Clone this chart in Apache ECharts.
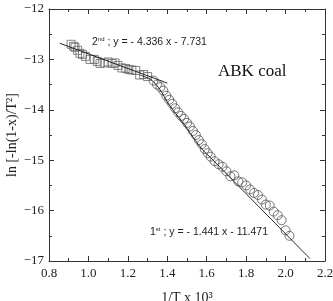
<!DOCTYPE html>
<html>
<head>
<meta charset="utf-8">
<script src="https://cdn.jsdelivr.net/npm/echarts@6/dist/echarts.min.js"></script>
<style>
  html, body { margin: 0; padding: 0; background: #fff; }
  #chartmain { width: 333px; height: 301px; }
</style>
</head>
<body>
<div id="chartmain"></div>
<script>
// 2nd stage data (squares)
var squareX = [0.912, 0.925, 0.932, 0.945, 0.957, 0.97, 0.985, 1.008, 1.03, 1.045, 1.059, 1.08, 1.1, 1.12, 1.135, 1.15, 1.17, 1.19, 1.205, 1.22, 1.24, 1.26, 1.28, 1.3];
var squareY = [-12.70, -12.74, -12.76, -12.82, -12.88, -12.9, -12.94, -13.0, -13.0, -13.04, -13.08, -13.07, -13.05, -13.08, -13.07, -13.12, -13.17, -13.18, -13.2, -13.21, -13.22, -13.31, -13.3, -13.34];
// 1st stage data (circles)
var circleX = [1.33, 1.348, 1.365, 1.38, 1.395, 1.41, 1.425, 1.44, 1.455, 1.47, 1.485, 1.5, 1.515, 1.53, 1.545, 1.56, 1.575, 1.59, 1.605, 1.62, 1.64, 1.66, 1.68, 1.7, 1.72, 1.74, 1.76, 1.78, 1.8, 1.82, 1.84, 1.86, 1.88, 1.9, 1.92, 1.94, 1.96, 1.98, 2.0, 2.02];
var circleY = [-13.42, -13.5, -13.55, -13.62, -13.72, -13.8, -13.88, -13.97, -14.05, -14.12, -14.18, -14.26, -14.33, -14.42, -14.5, -14.6, -14.68, -14.78, -14.86, -14.93, -15.02, -15.08, -15.13, -15.22, -15.32, -15.3, -15.42, -15.44, -15.5, -15.58, -15.65, -15.69, -15.78, -15.88, -15.9, -16.02, -16.09, -16.19, -16.39, -16.5];
// fitted lines
var fit2X = [0.855, 1.40];
var fit2Y = [-12.68, -13.47];
var fit1X = [1.262, 1.32, 1.363, 1.404, 1.44, 1.48, 1.53, 1.58, 1.617, 2.123];
var fit1Y = [-13.31, -13.41, -13.6, -13.87, -14.06, -14.26, -14.54, -14.8, -14.94, -16.95];
var xTicks = [0.8, 1.0, 1.2, 1.4, 1.6, 1.8, 2.0, 2.2];
var yTicks = [-12, -13, -14, -15, -16, -17];

function zip(a, b) {
    var out = [];
    for (var i = 0; i < a.length; i++) out.push([a[i], b[i]]);
    return out;
}

var serif = '"Liberation Serif", "DejaVu Serif", serif';
var sans = '"Liberation Sans", Arial, sans-serif';

var axisCommon = {
    axisLine: { lineStyle: { color: '#333', width: 1 } },
    axisTick: { inside: true, length: 5, lineStyle: { color: '#333' } },
    minorTick: { show: true, splitNumber: 2, length: 3, lineStyle: { color: '#333' } },
    splitLine: { show: false }
};

var chart = echarts.init(document.getElementById('chartmain'));
chart.setOption({
    animation: false,
    backgroundColor: '#fff',
    grid: { left: 49, right: 8, top: 9, bottom: 40, containLabel: false, outerBoundsMode: 'none' },
    xAxis: [
        Object.assign({
            type: 'value', min: xTicks[0], max: xTicks[xTicks.length - 1], interval: 0.2,
            position: 'bottom',
            axisLabel: { fontFamily: serif, fontSize: 13, color: '#222', margin: 6,
                formatter: function (v) { return v.toFixed(1); } },
            name: '1/T x 10³', nameLocation: 'middle', nameGap: 30, nameMoveOverlap: false,
            nameTextStyle: { fontFamily: serif, fontSize: 14, color: '#222' }
        }, axisCommon),
        Object.assign({
            type: 'value', min: 0.8, max: 2.2, interval: 0.2, position: 'top',
            axisLabel: { show: false }
        }, axisCommon)
    ],
    yAxis: [
        Object.assign({
            type: 'value', min: yTicks[yTicks.length - 1], max: yTicks[0], interval: 1,
            position: 'left',
            axisLabel: { fontFamily: serif, fontSize: 13, color: '#222', margin: 5,
                formatter: function (v) { return String(v).replace('-', '\u2212'); } },
            name: 'ln [-ln(1-x)/T²]', nameLocation: 'middle', nameGap: 30, nameMoveOverlap: false,
            nameTextStyle: { fontFamily: serif, fontSize: 14, color: '#222' }
        }, axisCommon),
        Object.assign({
            type: 'value', min: -17, max: -12, interval: 1, position: 'right',
            axisLabel: { show: false }
        }, axisCommon)
    ],
    graphic: [
        { type: 'text', left: 92, top: 36, style: {
            text: '2{s|nd} ; y = - 4.336 x - 7.731', fill: '#222',
            font: '10.5px ' + sans,
            rich: { s: { fontSize: 6, verticalAlign: 'top', padding: [0, 0, 6, 0], fontFamily: sans } } } },
        { type: 'text', left: 150, top: 226, style: {
            text: '1{s|st} ; y = - 1.441 x - 11.471', fill: '#222',
            font: '10.5px ' + sans,
            rich: { s: { fontSize: 6, verticalAlign: 'top', padding: [0, 0, 6, 0], fontFamily: sans } } } },
        { type: 'text', left: 218, top: 63, style: {
            text: 'ABK coal', fill: '#111', font: '17px ' + serif } }
    ],
    series: [
        {
            type: 'scatter', data: zip(squareX, squareY), symbol: 'rect', symbolSize: 8,
            itemStyle: { color: 'rgba(255,255,255,0)', borderColor: '#666', borderWidth: 1 }
        },
        {
            type: 'scatter', data: zip(circleX, circleY), symbol: 'circle', symbolSize: 9,
            itemStyle: { color: 'rgba(255,255,255,0)', borderColor: '#555', borderWidth: 1 }
        },
        {
            type: 'line', data: zip(fit2X, fit2Y), showSymbol: false,
            lineStyle: { color: '#222', width: 1 }
        },
        {
            type: 'line', data: zip(fit1X, fit1Y), showSymbol: false, smooth: 0.3,
            lineStyle: { color: '#222', width: 1 }
        }
    ]
});
</script>
</body>
</html>
